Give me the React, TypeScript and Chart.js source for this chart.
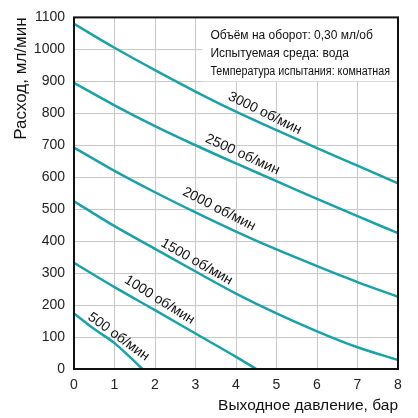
import React, { useEffect, useRef } from 'react';
import { Chart, registerables } from 'chart.js';

Chart.register(...registerables);

// Outlet pressure (bar) for full curves
const pressureBar = [0, 1, 2, 3, 4, 5, 6, 7, 8];
const flow3000 = [1080, 1005, 935, 868, 805, 747, 691, 636, 581];
const flow2500 = [895, 825, 760, 700, 643, 588, 532, 478, 425];
const flow2000 = [693, 620, 553, 490, 430, 374, 322, 272, 226];
const flow1500 = [525, 447, 376, 305, 236, 174, 118, 68, 28];
const pressure1000 = [0, 1, 2, 3, 4, 4.5];
const flow1000 = [332, 256, 184, 111, 38, 0];
const pressure500 = [0, 0.5, 1, 1.35, 1.69];
const flow500 = [174, 125, 81, 41, 0];

const curveNames = ['3000 об/мин', '2500 об/мин', '2000 об/мин', '1500 об/мин', '1000 об/мин', '500 об/мин'];
const labelX = [4.71, 4.16, 3.58, 3.03, 2.11, 1.1];
const labelY = [800, 671, 500, 335, 216, 101];
const labelAngleDeg = [26, 24.5, 27, 29.5, 32, 36];

const noteLines = ['Объём на оборот: 0,30 мл/об', 'Испытуемая среда: вода', 'Температура испытания: комнатная'];
const noteBoxFromX = 3.17;
const noteBoxToY = 900;

const xTitle = 'Выходное давление, бар';
const yTitle = 'Расход, мл/мин';

const FONT = '"Liberation Sans", Arial, sans-serif';
const TEAL = '#17a3a7';

function pts(xs: number[], ys: number[]) {
  return xs.map((x, i) => ({ x, y: ys[i] }));
}

const overlayPlugin = {
  id: 'overlay',
  beforeDatasetsDraw(chart: any) {
    const { ctx, chartArea, scales } = chart;
    const xs = scales.x, ys = scales.y;
    const left = xs.getPixelForValue(noteBoxFromX);
    const bottom = ys.getPixelForValue(noteBoxToY);
    ctx.save();
    ctx.fillStyle = '#ffffff';
    ctx.fillRect(left, chartArea.top, chartArea.right - left, bottom - chartArea.top);
    ctx.fillStyle = '#111';
    ctx.font = `12px ${FONT}`;
    ctx.textBaseline = 'middle';
    ctx.textAlign = 'left';
    const gap = (bottom - chartArea.top) / 3.5;
    const maxW = chartArea.right - left - 16;
    noteLines.forEach((t, i) => {
      ctx.fillText(t, left + 8, chartArea.top + 18 + gap * i, maxW);
    });
    ctx.restore();
  },
  afterDatasetsDraw(chart: any) {
    const { ctx, scales } = chart;
    ctx.save();
    ctx.fillStyle = '#111';
    ctx.font = `14px ${FONT}`;
    ctx.textAlign = 'center';
    ctx.textBaseline = 'middle';
    curveNames.forEach((t, i) => {
      const px = scales.x.getPixelForValue(labelX[i]);
      const py = scales.y.getPixelForValue(labelY[i]);
      ctx.save();
      ctx.translate(px, py);
      ctx.rotate((labelAngleDeg[i] * Math.PI) / 180);
      ctx.fillText(t, 0, 0);
      ctx.restore();
    });
    ctx.restore();
  },
  afterDraw(chart: any) {
    const { ctx, chartArea } = chart;
    ctx.save();
    ctx.strokeStyle = '#111';
    ctx.lineWidth = 2;
    ctx.strokeRect(chartArea.left, chartArea.top, chartArea.right - chartArea.left, chartArea.bottom - chartArea.top);
    ctx.restore();
  },
};

export default function App() {
  const ref = useRef<HTMLCanvasElement>(null);
  useEffect(() => {
    if (!ref.current) return;
    const mk = (data: any[]) => ({
      data,
      borderColor: TEAL,
      borderWidth: 2.5,
      pointRadius: 0,
      fill: false,
      cubicInterpolationMode: 'monotone' as const,
    });
    const chart = new Chart(ref.current, {
      type: 'line',
      data: {
        datasets: [
          mk(pts(pressureBar, flow3000)),
          mk(pts(pressureBar, flow2500)),
          mk(pts(pressureBar, flow2000)),
          mk(pts(pressureBar, flow1500)),
          mk(pts(pressure1000, flow1000)),
          mk(pts(pressure500, flow500)),
        ],
      },
      options: {
        animation: false,
        responsive: false,
        layout: { padding: { top: 17, right: 20, left: 0, bottom: 0 } },
        plugins: { legend: { display: false }, tooltip: { enabled: false } },
        scales: {
          x: {
            type: 'linear',
            min: 0,
            max: 8,
            ticks: { stepSize: 1, color: '#222', font: { family: FONT, size: 14 }, padding: 8, callback: (v: any) => String(v) },
            grid: { color: '#c8c8c8', lineWidth: 1, drawTicks: false },
            border: { display: false },
            title: { display: true, text: xTitle, align: 'end', color: '#111', font: { family: FONT, size: 15.5 }, padding: { top: 0, bottom: 3 } },
            afterFit: (s: any) => { s.height = 49; },
          },
          y: {
            type: 'linear',
            min: 0,
            max: 1100,
            ticks: { stepSize: 100, color: '#222', font: { family: FONT, size: 14 }, padding: 9, callback: (v: any) => String(v) },
            grid: { color: '#c8c8c8', lineWidth: 1, drawTicks: false },
            border: { display: false },
            title: { display: true, text: yTitle, align: 'end', color: '#111', font: { family: FONT, size: 17 }, padding: { top: 11, bottom: 0 } },
            afterFit: (s: any) => { s.width = 74; },
          },
        },
      },
      plugins: [overlayPlugin],
    });
    return () => chart.destroy();
  }, []);
  return (
    <div style={{ position: 'absolute', left: 0, top: 0, width: 418, height: 418, background: '#fff' }}>
      <canvas ref={ref} width={418} height={418} />
    </div>
  );
}
